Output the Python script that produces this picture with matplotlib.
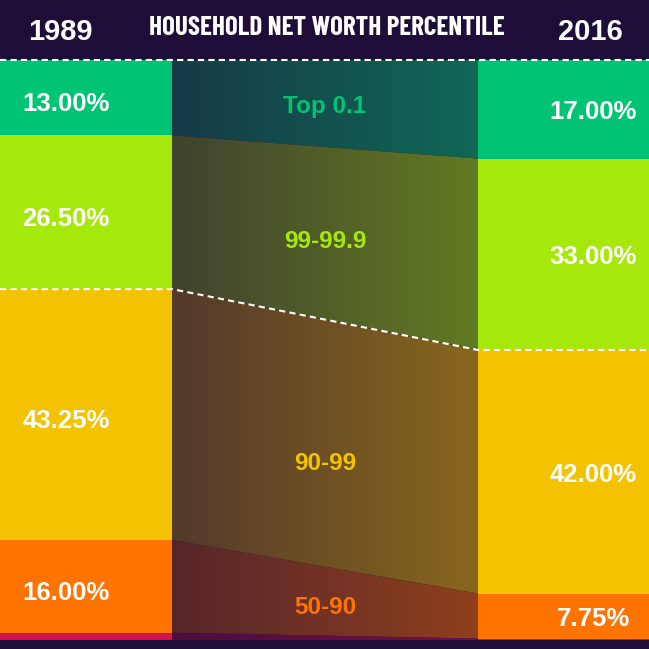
import numpy as np
import matplotlib.pyplot as plt
from matplotlib.colors import to_rgb
from matplotlib.patches import Polygon, Rectangle

# data (shares of household net worth, %)
groups = ["Top 0.1", "99-99.9", "90-99", "50-90", "0-50"]
share_1989 = [13.00, 26.50, 43.25, 16.00, 1.25]
share_2016 = [17.00, 33.00, 42.00, 7.75, 0.25]
years = ["1989", "2016"]
title = "HOUSEHOLD NET WORTH PERCENTILE"

colors = ["#00c473", "#a6e80c", "#f3c200", "#ff7300", "#d4114e"]
BG = "#1e0c39"
BOLD = ["Liberation Sans", "DejaVu Sans"]
NARROW = ["Barlow Condensed", "Liberation Sans", "DejaVu Sans"]
label_nudge = [0.6, 1.5, 3.5, 1.0]  # band labels sit a bit below centre

W = 649
fig = plt.figure(figsize=(6.49, 6.49), dpi=100, facecolor=BG)
ax = fig.add_axes([0, 9 / W, 1, 580 / W])
ax.set_facecolor(BG)
ax.set_xlim(0, W)
ax.set_ylim(100, 0)
ax.axis("off")

xl0, xl1 = 0, 172   # 1989 column
xr0, xr1 = 478, W   # 2016 column

top_l = np.concatenate([[0], np.cumsum(share_1989)[:-1]])
top_r = np.concatenate([[0], np.cumsum(share_2016)[:-1]])
bg_rgb = np.array(to_rgb(BG))

for i, c in enumerate(colors):
    lt, lb = top_l[i], top_l[i] + share_1989[i]
    rt, rb = top_r[i], top_r[i] + share_2016[i]
    ax.add_patch(Rectangle((xl0, lt), xl1 - xl0, share_1989[i], color=c, lw=0))
    ax.add_patch(Rectangle((xr0, rt), xr1 - xr0, share_2016[i], color=c, lw=0))

    # connecting band, darker on the left
    rgb = np.array(to_rgb(c))
    a = np.linspace(0.25, 0.5, 256)[:, None]
    grad = (a * rgb + (1 - a) * bg_rgb)[None, :, :]
    poly = Polygon([(xl1, lt), (xr0, rt), (xr0, rb), (xl1, lb)], closed=True,
                   facecolor="none", edgecolor="none")
    ax.add_patch(poly)
    im = ax.imshow(grad, extent=[xl1, xr0, max(lb, rb), min(lt, rt)],
                   aspect="auto", interpolation="bilinear", zorder=1)
    im.set_clip_path(poly)

    if i < 4:
        ax.text((xl0 + xl1) / 2 - 20, (lt + lb) / 2 + 1.1, f"{share_1989[i]:.2f}%",
                color="white", fontsize=18.5, fontweight="bold", family=BOLD,
                ha="center", va="center", zorder=3)
        ax.text((xr0 + xr1) / 2 + 30, (rt + rb) / 2 + 0.5, f"{share_2016[i]:.2f}%",
                color="white", fontsize=18.5, fontweight="bold", family=BOLD,
                ha="center", va="center", zorder=3)
        xm = (xl1 + xr0) / 2
        ym = ((lt + rt) / 2 + (lb + rb) / 2) / 2 + label_nudge[i]
        ax.text(xm, ym, groups[i], color=c, fontsize=17.5, fontweight="bold",
                family=BOLD, ha="center", va="center", zorder=3)

# dashed separators
dash = dict(color="white", lw=1.5, ls=(0, (3, 2)), zorder=4, clip_on=False)
ax.plot([0, W], [0, 0], **dash)
y10_l, y10_r = top_l[2], top_r[2]
ax.plot([xl0, xl1, xr0, xr1], [y10_l, y10_l, y10_r, y10_r], **dash)

# header
fig.text(60 / W, 1 - 32 / W, years[0], color="white", fontsize=21,
         fontweight="bold", family=BOLD, ha="center", va="center")
fig.text(590 / W, 1 - 32 / W, years[1], color="white", fontsize=21,
         fontweight="bold", family=BOLD, ha="center", va="center")
fig.text(327 / W, 1 - 28 / W, title, color="white", fontsize=19.5,
         fontweight=700, family=NARROW, ha="center", va="center")

fig.savefig("out.png", dpi=100, facecolor=BG)
